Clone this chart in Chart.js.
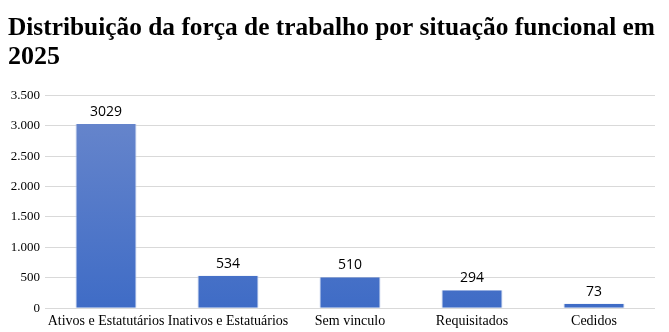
<!DOCTYPE html>
<html>
<head>
<meta charset="utf-8">
<script src="https://cdn.jsdelivr.net/npm/chart.js@4.4.0/dist/chart.umd.min.js"></script>
<style>
  html, body { margin: 0; padding: 0; background: #fff; }
  #wrap { width: 669px; height: 332px; }
</style>
</head>
<body>
<div id="wrap"><canvas id="chart" width="669" height="332"></canvas></div>
<script>
// workforce by functional status, 2025
const categories = ["Ativos e Estatutários", "Inativos e Estatuários", "Sem vinculo", "Requisitados", "Cedidos"];
const counts = [3029, 534, 510, 294, 73];
const titleLines = ["Distribuição da força de trabalho por situação funcional em", "2025"];

// prints the value over each bar
const valueLabels = {
  id: "valueLabels",
  afterDatasetsDraw(chart) {
    const ctx = chart.ctx;
    const meta = chart.getDatasetMeta(0);
    ctx.save();
    ctx.font = "14px 'Open Sans', sans-serif";
    ctx.fillStyle = "#000";
    ctx.textAlign = "center";
    ctx.textBaseline = "bottom";
    meta.data.forEach((bar, i) => {
      ctx.fillText(String(counts[i]), bar.x, bar.y - 5);
    });
    ctx.restore();
  }
};

function barGradient(context) {
  const area = context.chart.chartArea;
  if (!area) return "#4472c4";
  const g = context.chart.ctx.createLinearGradient(0, area.top, 0, area.bottom);
  g.addColorStop(0, "#6b88cc");
  g.addColorStop(1, "#3f6cc6");
  return g;
}

const ctx = document.getElementById("chart").getContext("2d");
const chart = new Chart(ctx, {
  type: "bar",
  data: {
    labels: categories,
    datasets: [{
      data: counts,
      backgroundColor: barGradient,
      borderColor: "rgba(190, 205, 235, 0.9)",
      borderWidth: { top: 0, left: 1, right: 1, bottom: 0 },
      categoryPercentage: 1,
      barPercentage: 0.5
    }]
  },
  plugins: [valueLabels],
  options: {
    responsive: false,
    animation: false,
    layout: { padding: { left: 8, right: 14, top: 0, bottom: -3 } },
    plugins: {
      legend: { display: false },
      tooltip: { enabled: false },
      title: {
        display: true,
        text: titleLines,
        align: "start",
        color: "#000",
        font: { family: "'Liberation Serif', serif", size: 26, weight: "bold", lineHeight: 1.12 },
        padding: { top: 14, bottom: 23 }
      }
    },
    scales: {
      x: {
        grid: { display: false, drawTicks: false },
        border: { display: false },
        ticks: {
          autoSkip: false,
          maxRotation: 0,
          color: "#000",
          padding: 5,
          font: { family: "'Liberation Serif', serif", size: 14 }
        }
      },
      y: {
        min: 0,
        max: 3500,
        grid: { color: "#d9d9d9", drawTicks: false },
        border: { display: false },
        afterFit(scale) { scale.width = 37; },
        ticks: {
          stepSize: 500,
          color: "#000",
          padding: 5,
          font: { family: "'Liberation Serif', serif", size: 13 },
          callback: (v) => v.toLocaleString("pt-BR")
        }
      }
    }
  }
});
</script>
</body>
</html>
